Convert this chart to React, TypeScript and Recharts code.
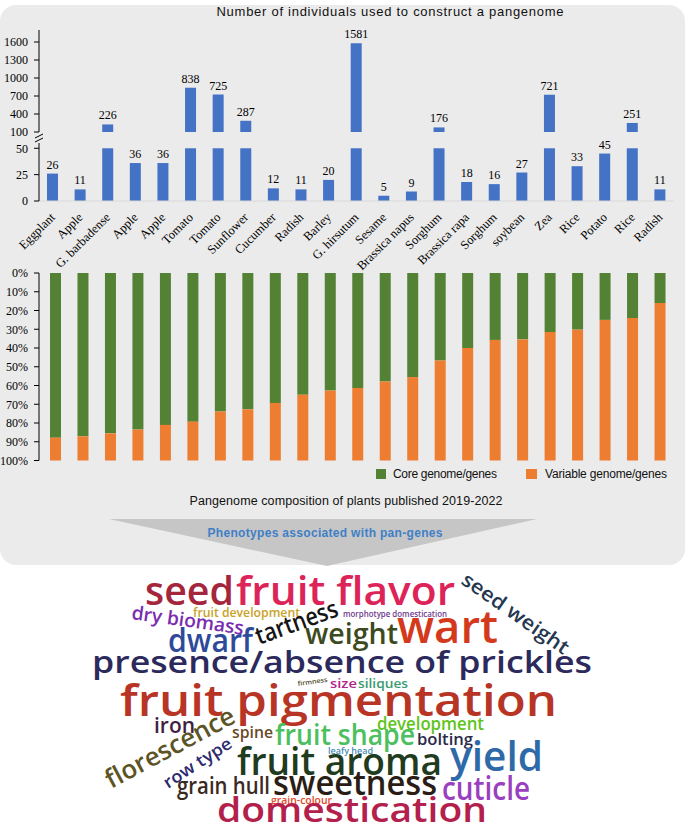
import React from 'react';
import { BarChart, Bar, XAxis, YAxis, LabelList } from 'recharts';

// number of individuals per pangenome (top panel)
const species = [
  'Eggplant', 'Apple', 'G. barbadense', 'Apple', 'Apple', 'Tomato', 'Tomato', 'Sunflower',
  'Cucumber', 'Radish', 'Barley', 'G. hirsutum', 'Sesame', 'Brassica napus', 'Sorghum',
  'Brassica rapa', 'Sorghum', 'soybean', 'Zea', 'Rice', 'Potato', 'Rice', 'Radish',
];
const individuals = [26, 11, 226, 36, 36, 838, 725, 287, 12, 11, 20, 1581, 5, 9, 176, 18, 16, 27, 721, 33, 45, 251, 11];
const upperTicks = [100, 400, 700, 1000, 1300, 1600];
const lowerTicks = [0, 25, 50];
const breakAt = 50;

// pangenome composition (middle panel), percent
const coreShare = [87.8, 87.1, 85.5, 83.5, 81.0, 79.3, 73.9, 72.7, 69.3, 64.9, 62.7, 61.3, 57.9, 55.5, 46.7, 40.0, 35.7, 35.4, 31.5, 30.2, 25.0, 24.0, 16.0];
const variableShare = [12.2, 12.9, 14.5, 16.5, 19.0, 20.7, 26.1, 27.3, 30.7, 35.1, 37.3, 38.7, 42.1, 44.5, 53.3, 60.0, 64.3, 64.6, 68.5, 69.8, 75.0, 76.0, 84.0];
const shareTicks = [0, 10, 20, 30, 40, 50, 60, 70, 80, 90, 100];
const seriesNames = ['Core genome/genes', 'Variable genome/genes'];

// word cloud terms
const phenotypes = [
  'seed', 'fruit flavor', 'seed weight', 'dry biomass', 'fruit development', 'tartness',
  'morphotype domestication', 'wart', 'weight', 'dwarf', 'presence/absence of prickles',
  'firmness', 'size', 'siliques', 'fruit pigmentation', 'iron', 'florescence', 'spine',
  'development', 'fruit shape', 'bolting', 'row type', 'leafy head', 'fruit aroma', 'yield',
  'grain hull', 'sweetness', 'cuticle', 'grain-colour', 'domestication',
];

// placement of each term in the cloud: x, baseline y, font size, width, rotation, colour
const cloudLayout = [
  [145, 605, 40, 89, 0, '#a4263c'],
  [236, 605, 40, 219, 0, '#dc2459'],
  [460, 583, 20, 126, 35, '#263850'],
  [131, 619, 19, 113, 8, '#7a2db0'],
  [193, 617, 12.5, 107, 0, '#c9a227'],
  [259, 645, 25, 86, -20, '#151515'],
  [343, 617, 8.5, 104, 0, '#6e3a8e'],
  [397, 643, 46, 101, 0, '#d4391b'],
  [305, 644, 29, 93, 0, '#3d4a20'],
  [168, 652, 32, 85, 0, '#2e4a9b'],
  [92, 673, 31, 500, 0, '#2c2a5c'],
  [298, 686, 6.5, 30, -8, '#4a4a2a'],
  [330, 688, 13, 27, 0, '#b0268a'],
  [358, 688, 13, 50, 0, '#3a9a70'],
  [120, 716, 44, 437, 0, '#b83425'],
  [154, 733, 21, 41, 0, '#3f1e44'],
  [111, 789, 26, 143, -28, '#5c5424'],
  [232, 738, 16, 41, 0, '#6b4a28'],
  [377, 730, 18, 107, 0, '#5ec41a'],
  [275, 745, 28, 140, 0, '#4cc060'],
  [417, 745, 17, 56, 0, '#2a2a4a'],
  [168, 789, 17, 78, -33, '#2d2a6e'],
  [328, 754, 9.5, 45, 0, '#4a8cb4'],
  [237, 775, 38, 205, 0, '#1f3b20'],
  [450, 771, 42, 93, 0, '#2f6aa8'],
  [177, 794, 23, 93, 0, '#3a2a1f'],
  [273, 795, 34, 164, 0, '#2a1d16'],
  [442, 800, 32, 88, 0, '#9a3fc0'],
  [271, 804, 10.5, 61, 0, '#e04a2a'],
  [217, 822, 35, 270, 0, '#b3204c'],
];

const countRows = species.map((name, i) => ({
  name,
  hi: individuals[i] > breakAt ? individuals[i] : null,
  lo: Math.min(individuals[i], breakAt),
  loLabel: individuals[i] > breakAt ? null : individuals[i],
}));

const shareRows = coreShare.map((c, i) => ({ id: i, core: c, variable: variableShare[i] }));

const serif = 'Liberation Serif, Times New Roman, serif';
const sans = 'Liberation Sans, Arial, sans-serif';
const axisTick = { fontFamily: serif, fontSize: 12, fill: '#000' };

const BLUE = '#4472c4';
const GREEN = '#548235';
const ORANGE = '#ed7d31';

// value label sitting above a bar
const ValueLabel = ({ x, y, width, value }: any) => {
  if (value === null || value === undefined) return null;
  return (
    <text x={x + width / 2} y={y - 5} textAnchor="middle" fontFamily={serif} fontSize={12} fill="#000">
      {value}
    </text>
  );
};

// rotated species names
const SpeciesTick = ({ x, y, payload }: any) => (
  <text
    x={x + 3}
    y={y + 9}
    transform={`rotate(-45 ${x + 3} ${y + 9})`}
    textAnchor="end"
    fontFamily={serif}
    fontSize={12.5}
    fill="#000"
  >
    {payload.value}
  </text>
);

const pos = (top: number): React.CSSProperties => ({ position: 'absolute', left: 0, top });

export default function App() {
  return (
    <div style={{ position: 'absolute', left: 0, top: 0, width: 685, height: 831, background: '#fff', overflow: 'hidden' }}>
      <div style={{ position: 'absolute', left: 0, top: 5, width: 685, height: 560, background: '#ebebeb', borderRadius: 16 }} />

      {/* upper segment of the broken axis */}
      <div style={pos(0)}>
        <BarChart width={685} height={140} data={countRows} margin={{ top: 30, right: 11, bottom: 8, left: 0 }}>
          <XAxis dataKey="name" hide />
          <YAxis
            width={39}
            type="number"
            domain={[100, 1800]}
            ticks={upperTicks}
            interval={0}
            tick={axisTick}
            tickSize={5}
            tickMargin={6}
            axisLine={{ stroke: '#000' }}
            tickLine={{ stroke: '#000' }}
          />
          <Bar dataKey="hi" fill={BLUE} barSize={11} isAnimationActive={false}>
            <LabelList dataKey="hi" content={ValueLabel} />
          </Bar>
        </BarChart>
      </div>

      {/* lower segment of the broken axis */}
      <div style={pos(0)}>
        <BarChart width={685} height={290} data={countRows} margin={{ top: 143, right: 11, bottom: 20, left: 0 }}>
          <XAxis
            dataKey="name"
            interval={0}
            height={69}
            tickLine={false}
            axisLine={{ stroke: '#d9d9d9' }}
            tick={<SpeciesTick />}
          />
          <YAxis
            width={39}
            type="number"
            domain={[0, 55]}
            ticks={lowerTicks}
            interval={0}
            tick={axisTick}
            tickSize={5}
            tickMargin={6}
            axisLine={{ stroke: '#000' }}
            tickLine={{ stroke: '#000' }}
          />
          <Bar dataKey="lo" fill={BLUE} barSize={11} isAnimationActive={false}>
            <LabelList dataKey="loLabel" content={ValueLabel} />
          </Bar>
        </BarChart>
      </div>

      {/* core vs variable share */}
      <div style={pos(0)}>
        <BarChart width={685} height={470} data={shareRows} margin={{ top: 273, right: 11, bottom: 9.5, left: 0 }}>
          <XAxis dataKey="id" hide padding={{ left: 3, right: 0 }} />
          <YAxis
            width={39}
            type="number"
            reversed
            domain={[0, 100]}
            ticks={shareTicks}
            interval={0}
            tickFormatter={(v: number) => `${v}%`}
            tick={axisTick}
            tickSize={5}
            tickMargin={6}
            axisLine={{ stroke: '#000' }}
            tickLine={{ stroke: '#000' }}
          />
          <Bar dataKey="core" name={seriesNames[0]} stackId="g" fill={GREEN} barSize={11} isAnimationActive={false} />
          <Bar dataKey="variable" name={seriesNames[1]} stackId="g" fill={ORANGE} barSize={11} isAnimationActive={false} />
        </BarChart>
      </div>

      <svg width={685} height={831} style={{ position: 'absolute', left: 0, top: 0, pointerEvents: 'none' }}>
        <text x={390} y={16} textAnchor="middle" fontFamily={sans} fontSize={13} textLength={347} fill="#111">
          Number of individuals used to construct a pangenome
        </text>

        {/* axis break */}
        <rect x={35} y={134} width={8} height={8} fill="#ebebeb" />
        <line x1={35} y1={138} x2={43} y2={134} stroke="#000" strokeWidth={1} />
        <line x1={35} y1={142} x2={43} y2={138} stroke="#000" strokeWidth={1} />

        {/* legend */}
        <rect x={376} y={469} width={10} height={10} fill={GREEN} />
        <text x={393} y={478} fontFamily={sans} fontSize={12} textLength={104} fill="#111">{seriesNames[0]}</text>
        <rect x={526} y={469} width={11} height={10} fill={ORANGE} />
        <text x={545} y={478} fontFamily={sans} fontSize={12} textLength={122} fill="#111">{seriesNames[1]}</text>

        <text x={346} y={505} textAnchor="middle" fontFamily={sans} fontSize={12.5} textLength={313} fill="#111">
          Pangenome composition of plants published 2019-2022
        </text>

        <polygon points="109,519 537,519 327,566" fill="#c6c6c6" />
        <text x={325} y={537} textAnchor="middle" fontFamily={sans} fontWeight={700} fontSize={12} textLength={235} fill="#3f7fc6">
          Phenotypes associated with pan-genes
        </text>

        {phenotypes.map((word, i) => {
          const [x, y, size, len, rot, color] = cloudLayout[i] as [number, number, number, number, number, string];
          return (
            <text
              key={word}
              x={x}
              y={y}
              fontFamily="Open Sans, Noto Sans, sans-serif"
              fontWeight={600}
              fontSize={size}
              textLength={len}
              lengthAdjust="spacingAndGlyphs"
              fill={color}
              transform={rot ? `rotate(${rot} ${x} ${y})` : undefined}
            >
              {word}
            </text>
          );
        })}
      </svg>
    </div>
  );
}
